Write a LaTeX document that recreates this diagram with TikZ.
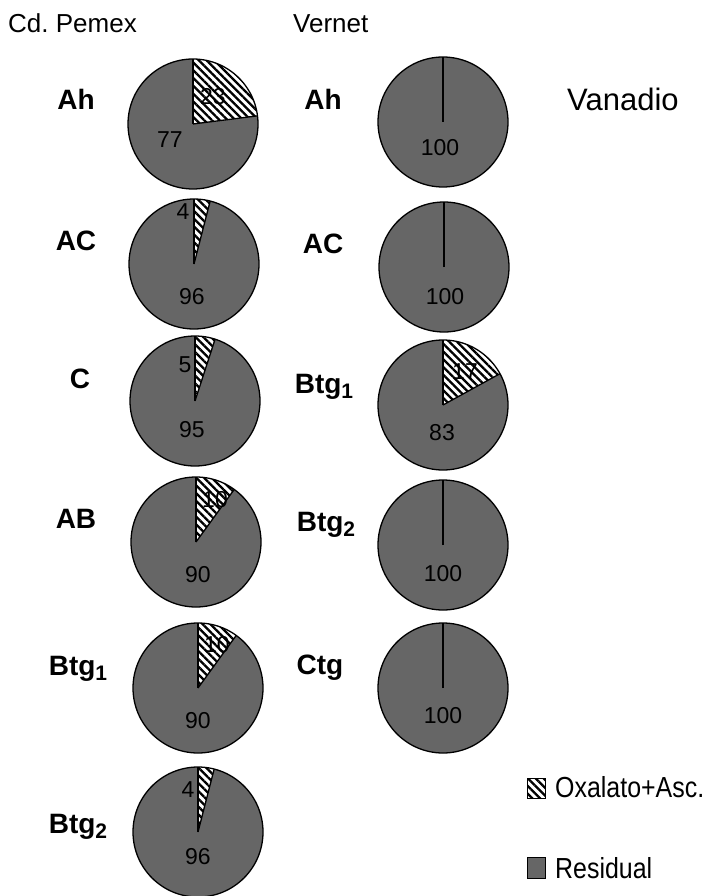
\documentclass[tikz,border=0pt]{standalone}
\usepackage{fontspec}
\setmainfont{Liberation Sans}
\usetikzlibrary{patterns.meta}
\tikzset{
  resid/.style={fill=black!60},
  hatch/.style={preaction={fill=white},pattern={Lines[angle=-45,distance=5.5pt,line width=2.3pt]},pattern color=black},
  edge/.style={draw=black,line width=1.3pt},
  lab/.style={font=\fontsize{28}{28}\selectfont\bfseries,anchor=base},
  num/.style={font=\fontsize{23}{23}\selectfont,inner sep=0pt},
  ttl/.style={font=\fontsize{26}{26}\selectfont,anchor=base west,inner sep=0pt},
  legtxt/.style={anchor=base west,inner sep=0pt},
  legbox/.style={draw=black,line width=1pt},
}
\newcommand{\pchart}[3]{%
  \fill[resid] (#1,#2) circle[radius=65];
  \ifnum#3>0
    \fill[hatch] (#1,#2) -- ++(-90:65) arc[start angle=-90,end angle={-90+3.6*#3},radius=65] -- cycle;
    \draw[edge] (#1,#2) -- ++({-90+3.6*#3}:65);
  \fi
  \draw[edge] (#1,#2) -- ++(-90:65);
  \draw[edge] (#1,#2) circle[radius=65];
}
\newcommand{\lsub}[1]{\raisebox{-5pt}{\fontsize{21}{21}\selectfont #1}}
\begin{document}
\begin{tikzpicture}[x=1pt,y=-1pt]
\useasboundingbox (0,0) rectangle (722,896);
% titles
\node[ttl] (t1) at (8,33) {Cd.\ Pemex};
\node[ttl] (t2) at (293,33) {Vernet};
\node[ttl,font=\fontsize{31}{31}\selectfont] (t3) at (567,111) {Vanadio};
% left column pies
\pchart{193}{124}{23}
\pchart{194}{264}{4}
\pchart{195}{401}{5}
\pchart{196}{542}{10}
\pchart{198}{688}{10}
\pchart{198}{832}{4}
% right column pies
\pchart{443}{122}{0}
\pchart{444}{267}{0}
\pchart{443}{405}{17}
\pchart{443}{545}{0}
\pchart{443}{688}{0}
% left labels
\node[lab] (lAh) at (76,110) {Ah};
\node[lab] (lAC) at (76,250) {AC};
\node[lab] (lC) at (80,388) {C};
\node[lab] (lAB) at (76,528) {AB};
\node[lab] (lB1) at (78,675) {Btg\lsub{1}};
\node[lab] (lB2) at (78,833) {Btg\lsub{2}};
% right labels
\node[lab] (rAh) at (323,110) {Ah};
\node[lab] (rAC) at (323,253) {AC};
\node[lab] (rB1) at (324,393) {Btg\lsub{1}};
\node[lab] (rB2) at (326,531) {Btg\lsub{2}};
\node[lab] (rCtg) at (320,674) {Ctg};
% numbers
\node[num] (n1) at (213,97) {23};
\node[num] (n2) at (170,140) {77};
\node[num] (n3) at (183,212) {4};
\node[num] (n4) at (192,297) {96};
\node[num] (n5) at (185,365) {5};
\node[num] (n6) at (192,430) {95};
\node[num] (n7) at (215,500) {10};
\node[num] (n8) at (198,575) {90};
\node[num] (n9) at (217,645) {10};
\node[num] (n10) at (198,721) {90};
\node[num] (n11) at (188,790) {4};
\node[num] (n12) at (198,857) {96};
\node[num] (n13) at (440,148) {100};
\node[num] (n14) at (445,297) {100};
\node[num] (n15) at (465,372) {17};
\node[num] (n16) at (442,433) {83};
\node[num] (n17) at (443,574) {100};
\node[num] (n18) at (443,716) {100};
% legend
\filldraw[hatch,legbox] (527,778) rectangle (545,798);
\node[legtxt] (lg1) at (555,797) {\scalebox{0.86}[1]{\fontsize{29}{29}\selectfont Oxalato+Asc.}};
\filldraw[resid,legbox] (527,857) rectangle (545,878);
\node[legtxt] (lg2) at (555,878) {\scalebox{0.86}[1]{\fontsize{29}{29}\selectfont Residual}};
\end{tikzpicture}
\end{document}
